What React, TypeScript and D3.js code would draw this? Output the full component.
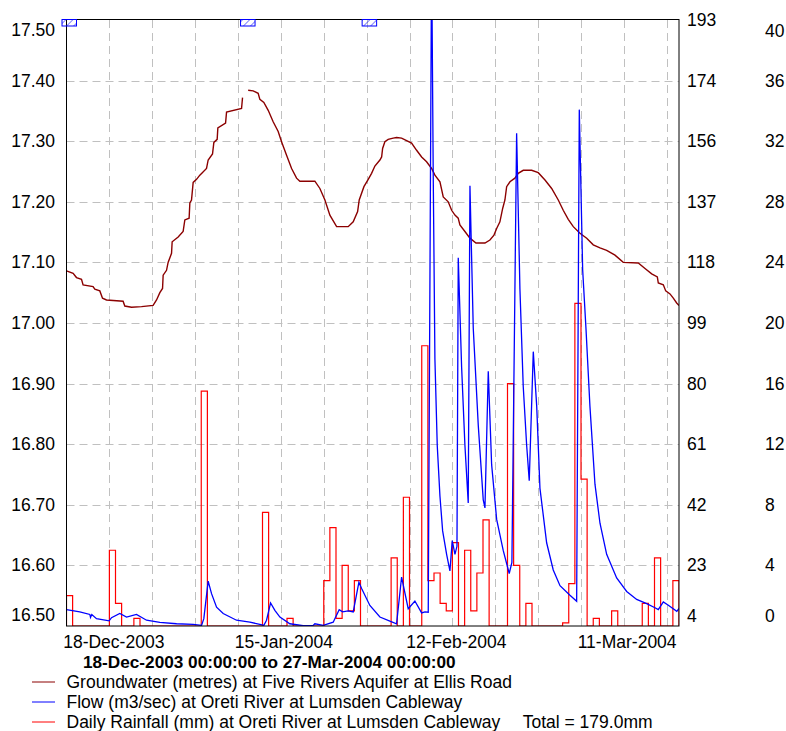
import React from 'react';
import * as d3 from 'd3';

const W = 786;
const H = 731;
const FONT = '"Liberation Sans", Arial, Helvetica, sans-serif';

const startDate = new Date(Date.UTC(2003, 11, 18));
const endDate = new Date(Date.UTC(2004, 2, 27));
const dayMs = 86400000;

// Groundwater (metres) — [day offset from 18-Dec-2003, level]; null = gap
const groundwater: [number, number | null][] = [
  [0, 17.086], [1.08, 17.082], [1.63, 17.075], [2.45, 17.072], [2.71, 17.063], [4.34, 17.06],
  [4.62, 17.056], [5.44, 17.053], [5.88, 17.041], [6.53, 17.038], [9.24, 17.036], [9.52, 17.028],
  [10.62, 17.026], [12.25, 17.027], [14.14, 17.029], [14.7, 17.038], [15.24, 17.05], [15.68, 17.057],
  [15.78, 17.079], [16.33, 17.087], [16.59, 17.1], [17.15, 17.115], [17.25, 17.134], [18.23, 17.142],
  [19.04, 17.151], [19.32, 17.17], [20.02, 17.173], [20.14, 17.198], [20.41, 17.203], [20.68, 17.232],
  [21.23, 17.237], [21.77, 17.244], [22.86, 17.255], [23.13, 17.269], [23.84, 17.279], [24.06, 17.298],
  [24.6, 17.303], [24.71, 17.322], [25.97, 17.33], [26.13, 17.348], [28.58, 17.354], [28.74, 17.372],
  [29.2, null],
  [29.66, 17.384], [30.48, 17.383], [31.29, 17.379], [31.57, 17.369], [32.22, 17.364], [32.93, 17.351],
  [33.74, 17.332], [34.56, 17.316], [35.11, 17.299], [35.93, 17.277], [36.75, 17.255], [37.56, 17.239],
  [38.1, 17.234], [40.55, 17.234], [41.37, 17.222], [42.19, 17.203], [43.0, 17.178], [44.1, 17.159],
  [45.99, 17.159], [46.81, 17.167], [47.53, 17.184], [47.79, 17.203], [48.56, 17.225], [49.26, 17.237],
  [49.81, 17.247], [50.35, 17.259], [51.17, 17.269], [51.45, 17.274], [51.61, 17.288], [51.98, 17.299],
  [52.52, 17.303], [53.34, 17.305], [53.89, 17.306], [54.71, 17.305], [55.53, 17.301], [56.34, 17.297],
  [57.16, 17.285], [57.98, 17.274], [58.79, 17.266], [59.61, 17.255], [60.15, 17.244], [60.97, 17.233],
  [61.51, 17.208], [62.32, 17.2], [62.88, 17.186], [63.42, 17.178], [63.95, 17.173], [64.23, 17.162],
  [65.05, 17.151], [65.87, 17.14], [66.85, 17.132], [68.32, 17.132], [69.13, 17.137], [69.79, 17.145],
  [70.23, 17.156], [70.76, 17.167], [71.21, 17.189], [71.58, 17.203], [71.86, 17.225], [72.4, 17.233],
  [73.21, 17.239], [73.75, 17.247], [74.57, 17.252], [75.94, 17.252], [77.02, 17.248], [78.12, 17.236],
  [79.21, 17.222], [80.29, 17.203], [81.1, 17.186], [81.92, 17.171], [82.74, 17.159], [83.83, 17.148],
  [84.93, 17.14], [86.0, 17.129], [87.1, 17.124], [88.19, 17.12], [89.55, 17.112], [90.9, 17.1],
  [93.35, 17.099], [94.45, 17.09], [95.54, 17.081], [96.46, 17.076], [96.62, 17.066], [97.44, 17.063],
  [97.83, 17.053], [98.53, 17.048], [99.07, 17.041], [99.62, 17.033], [100, 17.029],
];

// Flow (m3/sec) — [day offset, flow]
const flow: [number, number][] = [
  [0, 9.2], [2.17, 8.5], [3.81, 7.7], [3.92, 6.8], [4.13, 7.7], [4.9, 6.4], [6.96, 5.7], [7.35, 6.7],
  [8.7, 8.0], [9.8, 6.9], [11.43, 7.7], [13.07, 5.9], [15.24, 5.2], [17.97, 4.8], [20.68, 4.6],
  [22.05, 4.3], [22.42, 6.4], [23.13, 18.1], [23.68, 14.2], [24.5, 10.0], [25.58, 8.0], [27.76, 5.9],
  [29.94, 5.3], [31.57, 4.6], [32.22, 4.3], [32.66, 5.9], [33.32, 11.3], [34.02, 9.0], [34.84, 6.9],
  [36.47, 4.8], [38.64, 4.2], [40.27, 4.3], [40.55, 4.8], [41.91, 4.3], [43.54, 5.3], [44.52, 9.2],
  [45.08, 8.5], [45.99, 8.8], [46.81, 8.5], [47.74, 17.8], [48.18, 15.8], [49.53, 10.5], [51.17, 6.9],
  [52.8, 5.6], [53.89, 4.8], [54.71, 19.4], [55.79, 9.5], [56.88, 11.9], [57.98, 8.2], [58.52, 8.5],
  [59.06, 8.4], [59.61, 215], [59.87, 145.9], [60.15, 87.4], [60.53, 60.5], [60.97, 44.7],
  [61.41, 33.8], [62.06, 26.5], [62.6, 21.3], [62.98, 30.8], [63.42, 26.5], [63.75, 29.0],
  [63.96, 119.1], [64.51, 84.9], [65.05, 60.5], [65.59, 42.5], [65.87, 141.6], [66.41, 97.1],
  [67.23, 66.7], [68.04, 43.5], [68.32, 41.0], [68.86, 83.7], [69.41, 54.5], [70.23, 37.4],
  [71.3, 27.7], [72.28, 20.5], [72.72, 24.0], [73.49, 158.0], [74.03, 109.3], [74.57, 78.9],
  [75.13, 60.5], [75.55, 49.5], [76.21, 89.8], [76.77, 72.7], [77.3, 47.1], [78.39, 30.1],
  [79.47, 21.6], [80.57, 16.7], [82.2, 13.7], [83.29, 11.8], [83.72, 165.4], [84.27, 115.4],
  [84.81, 97.1], [85.46, 72.7], [86.28, 48.4], [87.1, 36.2], [88.19, 26.5], [89.82, 19.1],
  [91.46, 14.9], [93.09, 12.4], [94.72, 11.1], [96.08, 9.8], [96.62, 9.2], [97.44, 11.6],
  [98.26, 10.6], [99.64, 8.7], [100, 9.6],
];

// Daily rainfall (mm), one value per day starting 18-Dec-2003
const dailyRainfall: number[] = [
  2.0, 0, 0, 0, 0, 0, 0,
  5.0, 1.5, 0, 0, 0.5, 0, 0,
  0, 0, 0, 0, 0, 0, 0,
  0, 15.5, 0, 0, 0, 0, 0,
  0, 0, 0, 0, 7.5, 0, 0,
  0, 0.5, 0, 0, 0, 0, 0,
  3.0, 6.5, 0.5, 4.0, 1.0, 3.0, 0,
  0, 0, 0, 0, 4.5, 0, 8.5,
  0, 0, 18.5, 3.0, 3.5, 1.5, 1.0,
  5.5, 0, 5.0, 1.0, 3.5, 7.0, 0,
  0, 0, 16.0, 4.0, 0, 1.5, 0,
  0, 0, 0, 0, 0.2, 2.8, 21.3,
  9.7, 0, 0.5, 0, 0, 1.0, 0,
  0, 0, 0, 1.5, 0, 4.5, 0,
  0, 3.0,
];

// Comment markers along the top (day offsets)
const commentMarkers: number[] = [0.45, 29.6, 49.45];

const levelTicks: number[] = [16.5, 16.6, 16.7, 16.8, 16.9, 17.0, 17.1, 17.2, 17.3, 17.4, 17.5];
const flowDomain: [number, number] = [4.1, 193.4];
const rainTicks: number[] = [0, 4, 8, 12, 16, 20, 24, 28, 32, 36, 40];
const gridDays: number[] = [7, 14, 21, 28, 35, 42, 49, 56, 63, 70, 77, 84, 91, 98];
const labelDays: number[] = [0, 28, 56, 84];

const legendItems = [
  { label: 'Groundwater (metres) at Five Rivers Aquifer at Ellis Road', color: '#8b0000' },
  { label: 'Flow (m3/sec) at Oreti River at Lumsden Cableway', color: '#0000ff' },
  { label: 'Daily Rainfall (mm) at Oreti River at Lumsden Cableway', color: '#ff0000' },
];
const rainTotalText = 'Total = 179.0mm';

const L = 66.5, R = 679, T = 20, B = 626;
const FS = 17.5;

const dayToDate = (d: number) => new Date(startDate.getTime() + d * dayMs);

export default function App() {
  const x = d3.scaleUtc().domain([startDate, endDate]).range([L, R]);
  const yLevel = d3.scaleLinear().domain([16.5, 17.5]).range([B, T]);
  const yFlow = d3.scaleLinear().domain(flowDomain).range([B, T]);
  const yRain = d3.scaleLinear().domain([0, 40]).range([B, T]);

  const flowTicks = d3.range(11).map(k => flowDomain[0] + (k * (flowDomain[1] - flowDomain[0])) / 10);
  const fmtDate = d3.utcFormat('%d-%b-%Y');

  const gwLine = d3
    .line<[number, number | null]>()
    .defined(d => d[1] !== null)
    .x(d => x(dayToDate(d[0])))
    .y(d => yLevel(d[1] as number));

  const flowLine = d3
    .line<[number, number]>()
    .x(d => x(dayToDate(d[0])))
    .y(d => yFlow(d[1]));

  // Rainfall step outline
  let rainPath = `M${x(dayToDate(0))},${yRain(0)}`;
  dailyRainfall.forEach((v, i) => {
    const x0 = x(dayToDate(i));
    const x1 = x(dayToDate(i + 1));
    rainPath += `L${x0},${yRain(v)}L${x1},${yRain(v)}`;
  });
  rainPath += `L${x(dayToDate(dailyRainfall.length))},${yRain(0)}`;

  const labelY = (i: number, n: number, y: number, topOff: number, botOff: number) =>
    i === 0 ? y + botOff : i === n - 1 ? y + topOff : y + 6;

  return (
    <div style={{ position: 'absolute', left: 0, top: 0 }}>
      <svg width={W} height={H} style={{ display: 'block', background: '#fff' }} fontFamily={FONT}>
        <defs>
          <clipPath id="plotClip">
            <rect x={L} y={T} width={R - L} height={B - T} />
          </clipPath>
          <pattern id="hatch" patternUnits="userSpaceOnUse" width={5} height={5} patternTransform="rotate(45)">
            <line x1={0} y1={0} x2={0} y2={5} stroke="#0000ff" strokeWidth={1} />
          </pattern>
        </defs>

        {/* grid */}
        <g stroke="#c0c0c0" strokeWidth={1} strokeDasharray="8,5">
          {levelTicks.slice(1, -1).map(t => (
            <line key={`h${t}`} x1={L} x2={R} y1={Math.round(yLevel(t)) + 0.5} y2={Math.round(yLevel(t)) + 0.5} />
          ))}
          {gridDays.map(d => {
            const xx = Math.round(x(dayToDate(d))) + 0.5;
            return <line key={`v${d}`} x1={xx} x2={xx} y1={T} y2={B} />;
          })}
        </g>

        <g clipPath="url(#plotClip)">
          <path d={rainPath} fill="none" stroke="#ff0000" strokeWidth={1.2} />
          <path d={gwLine(groundwater) || ''} fill="none" stroke="#8b0000" strokeWidth={1.4} />
          <path d={flowLine(flow) || ''} fill="none" stroke="#0000ff" strokeWidth={1.3} />
        </g>

        {/* frame */}
        <rect x={L} y={T - 0.5} width={R - L} height={B - T + 0.5} fill="none" stroke="#000" strokeWidth={1} />

        {/* comment markers */}
        {commentMarkers.map((d, i) => {
          const cx = x(dayToDate(d));
          return (
            <rect key={`c${i}`} x={cx - 7.25} y={19.5} width={14.5} height={6.5} fill="url(#hatch)" stroke="#0000ff" strokeWidth={1} />
          );
        })}

        {/* left axis labels */}
        <g fontSize={FS} fill="#000" textAnchor="end">
          {levelTicks.map((t, i) => (
            <text key={`l${t}`} x={55} y={labelY(i, levelTicks.length, yLevel(t), 16, -5.5)}>
              {t.toFixed(2)}
            </text>
          ))}
        </g>
        {/* flow axis labels */}
        <g fontSize={FS} fill="#000" textAnchor="start">
          {flowTicks.map((t, i) => (
            <text key={`f${i}`} x={687} y={labelY(i, flowTicks.length, yFlow(t), 6, -4)}>
              {d3.format('.0f')(t)}
            </text>
          ))}
        </g>
        {/* rain axis labels */}
        <g fontSize={FS} fill="#000" textAnchor="start">
          {rainTicks.map((t, i) => (
            <text key={`r${t}`} x={765} y={labelY(i, rainTicks.length, yRain(t), 17, -4)}>
              {t}
            </text>
          ))}
        </g>

        {/* x labels */}
        <g fontSize={FS} fill="#000">
          {labelDays.map(d => (
            <text key={`x${d}`} x={x(dayToDate(d)) - 3.3} y={648}>
              {fmtDate(dayToDate(d))}
            </text>
          ))}
        </g>

        <text x={83} y={668} fontSize={17.2} fontWeight="bold" fill="#000">
          {`${d3.utcFormat('%d-%b-%Y %H:%M:%S')(startDate)} to ${d3.utcFormat('%d-%b-%Y %H:%M:%S')(endDate)}`}
        </text>

        {/* legend */}
        {legendItems.map((it, i) => {
          const by = 687.5 + i * 20;
          return (
            <g key={`lg${i}`}>
              <line x1={32} x2={55} y1={by - 5.5} y2={by - 5.5} stroke={it.color} strokeWidth={1} />
              <text x={66.5} y={by} fontSize={FS} fill="#000">
                {it.label}
              </text>
            </g>
          );
        })}
        <text x={522.7} y={687.5 + 2 * 20} fontSize={FS} fill="#000">
          {rainTotalText}
        </text>
      </svg>
    </div>
  );
}
